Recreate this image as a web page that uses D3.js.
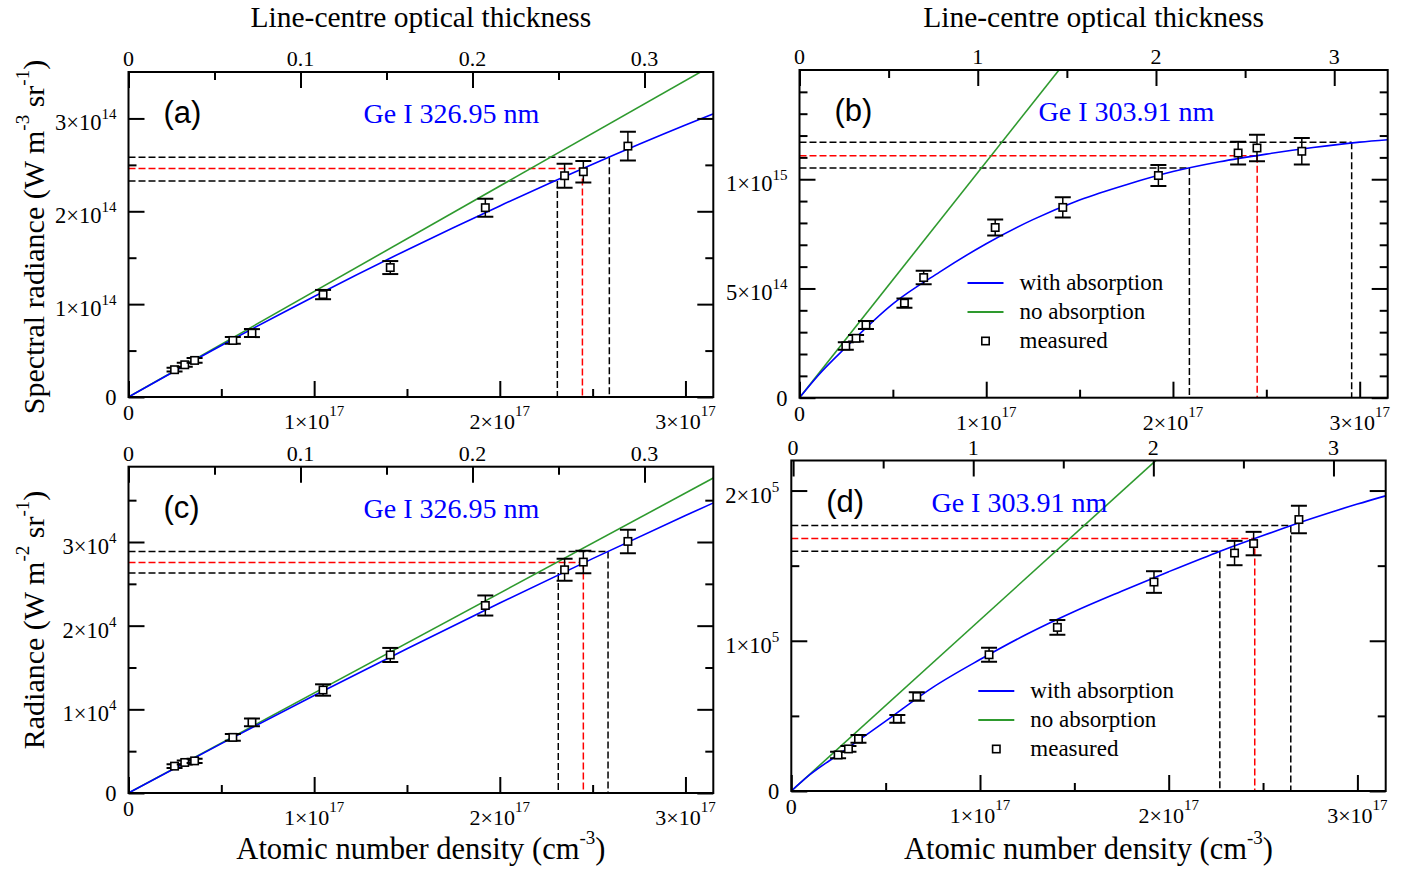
<!DOCTYPE html>
<html>
<head>
<meta charset="utf-8">
<script src="https://cdn.jsdelivr.net/npm/d3@7"></script>
<style>
  body { margin: 0; background: #fff; }
  text { font-family: "Liberation Serif", "Times New Roman", serif; fill: #000; }
</style>
</head>
<body>
<script>

// atomic number density of the measured points, x1e17 cm^-3 (same in all panels)
density = [0.248, 0.303, 0.356, 0.562, 0.665, 1.048, 1.41, 1.922, 2.349, 2.45, 2.69];
lineEnds = [0, 3.15];

// (a) spectral radiance, x1e14 W m^-3 sr^-1
measA = [0.294, 0.347, 0.394, 0.609, 0.688, 1.103, 1.394, 2.039, 2.383, 2.426, 2.702];
errA = [0.02, 0.022, 0.025, 0.036, 0.043, 0.05, 0.07, 0.097, 0.129, 0.116, 0.154];
fitNA = [0, 0.5, 1, 1.5, 2, 2.5, 3, 3.15];
fitA = [0, 0.555, 1.083, 1.584, 2.058, 2.506, 2.928, 3.049];
noAbsA = [0, 3.578];
markNA = [2.31, 2.445, 2.59];
markA = [2.326, 2.462, 2.581];

// (b) spectral radiance, x1e15 W m^-3 sr^-1
measB = [0.237, 0.272, 0.333, 0.433, 0.55, 0.779, 0.871, 1.017, 1.12, 1.143, 1.128];
errB = [0.017, 0.015, 0.018, 0.021, 0.031, 0.037, 0.046, 0.048, 0.052, 0.061, 0.061];
fitNB = [0, 0.1, 0.25, 0.5, 0.75, 1.0, 1.25, 1.5, 1.75, 2.0, 2.25, 2.5, 2.75, 3.0, 3.15];
fitB = [0, 0.102, 0.232, 0.43, 0.575, 0.705, 0.815, 0.905, 0.975, 1.035, 1.08, 1.115, 1.145, 1.17, 1.181];
noAbsB = [0, 3.40];
markNB = [2.088, 2.451, 2.957];
markB = [1.051, 1.108, 1.169];

// (c) radiance, x1e4 W m^-2 sr^-1
measC = [0.321, 0.365, 0.384, 0.665, 0.844, 1.231, 1.65, 2.241, 2.668, 2.76, 3.007];
errC = [0.022, 0.024, 0.026, 0.04, 0.046, 0.068, 0.084, 0.12, 0.132, 0.134, 0.14];
fitNC = [0, 0.5, 1, 1.5, 2, 2.5, 3, 3.15];
fitC = [0, 0.590, 1.165, 1.725, 2.271, 2.801, 3.316, 3.467];
noAbsC = [0, 3.764];
markNC = [2.315, 2.45, 2.583];
markC = [2.629, 2.756, 2.887];

// (d) radiance, x1e5 W m^-2 sr^-1
measD = [0.24, 0.28, 0.347, 0.48, 0.629, 0.907, 1.089, 1.391, 1.584, 1.647, 1.807];
errD = [0.022, 0.019, 0.026, 0.026, 0.028, 0.047, 0.049, 0.072, 0.081, 0.078, 0.091];
fitND = [0, 0.1, 0.25, 0.5, 0.75, 1.0, 1.25, 1.5, 1.75, 2.0, 2.25, 2.5, 2.75, 3.0, 3.15];
fitD = [0, 0.11, 0.243, 0.465, 0.69, 0.875, 1.045, 1.195, 1.33, 1.46, 1.585, 1.70, 1.81, 1.91, 1.965];
noAbsD = [0, 3.587];
markND = [2.271, 2.456, 2.647];
markD = [1.596, 1.68, 1.767];

markColors = ["#000000", "#ff0000", "#000000"];

// tick values and labels
xTicks = [0, 1, 2, 3];
xLabels = ["0", "1×10^{17}", "2×10^{17}", "3×10^{17}"];
xMinor = [0.5, 1.5, 2.5];
tauTicksA = [0, 0.1, 0.2, 0.3];
tauLabelsA = ["0", "0.1", "0.2", "0.3"];
tauMinorA = [0.05, 0.15, 0.25];
tauTicksB = [0, 1, 2, 3];
tauLabelsB = ["0", "1", "2", "3"];
tauMinorB = [0.5, 1.5, 2.5];
yTicksA = [0, 1, 2, 3];
yLabelsA = ["0", "1×10^{14}", "2×10^{14}", "3×10^{14}"];
yMinorA = [0.5, 1.5, 2.5];
yTicksB = [0, 0.5, 1.0];
yLabelsB = ["0", "5×10^{14}", "1×10^{15}"];
yMinorB = [0.1, 0.2, 0.3, 0.4, 0.6, 0.7, 0.8, 0.9, 1.1, 1.2, 1.3, 1.4];
yTicksC = [0, 1, 2, 3];
yLabelsC = ["0", "1×10^{4}", "2×10^{4}", "3×10^{4}"];
yMinorC = [0.5, 1.5, 2.5, 3.5];
yTicksD = [0, 1, 2];
yLabelsD = ["0", "1×10^{5}", "2×10^{5}"];
yMinorD = [0.5, 1.5];

legendNames = ["with absorption", "no absorption", "measured"];

panels = [
  {key: "a", box: [128.5, 72, 713.3, 397], yMax: 3.5, tauDom: [0, 0.34],
   meas: measA, err: errA, fitN: fitNA, fit: fitA, noAbs: noAbsA, markN: markNA, mark: markA,
   yTicks: yTicksA, yLabels: yLabelsA, yMinor: yMinorA,
   tauTicks: tauTicksA, tauLabels: tauLabelsA, tauMinor: tauMinorA,
   tag: "(a)", line: "Ge I 326.95 nm", lineX: 323,
   yTitle: "Spectral radiance (W m^{-3} sr^{-1})", yTitleY: 237, topTitle: true},
  {key: "b", box: [799.5, 70, 1387.7, 397.7], yMax: 1.5, tauDom: [0, 3.3],
   meas: measB, err: errB, fitN: fitNB, fit: fitB, noAbs: noAbsB, markN: markNB, mark: markB,
   yTicks: yTicksB, yLabels: yLabelsB, yMinor: yMinorB,
   tauTicks: tauTicksB, tauLabels: tauLabelsB, tauMinor: tauMinorB,
   tag: "(b)", line: "Ge I 303.91 nm", lineX: 327, topTitle: true, legend: [168, 213]},
  {key: "c", box: [128.5, 466.7, 713.3, 793], yMax: 3.9, tauDom: [0, 0.34],
   meas: measC, err: errC, fitN: fitNC, fit: fitC, noAbs: noAbsC, markN: markNC, mark: markC,
   yTicks: yTicksC, yLabels: yLabelsC, yMinor: yMinorC,
   tauTicks: tauTicksA, tauLabels: tauLabelsA, tauMinor: tauMinorA,
   tag: "(c)", line: "Ge I 326.95 nm", lineX: 323,
   yTitle: "Radiance (W m^{-2} sr^{-1})", yTitleY: 620, bottomTitle: true},
  {key: "d", box: [791.3, 460.5, 1385.7, 791], yMax: 2.2, tauDom: [-0.01, 3.29],
   meas: measD, err: errD, fitN: fitND, fit: fitD, noAbs: noAbsD, markN: markND, mark: markD,
   yTicks: yTicksD, yLabels: yLabelsD, yMinor: yMinorD,
   tauTicks: tauTicksB, tauLabels: tauLabelsB, tauMinor: tauMinorB,
   tag: "(d)", line: "Ge I 303.91 nm", lineX: 228, bottomTitle: true, legend: [187, 230.5]}
];

svg = d3.select("body").append("svg").attr("width", 1414).attr("height", 872);
defs = svg.append("defs");

// text with ^{...} superscripts
function rich(text, str, supSize, shift) {
  var parts = str.split(/\^\{([^}]*)\}/), raised = false;
  parts.forEach(function(p, i) {
    if (!p) return;
    var t = text.append("tspan").text(p);
    if (i % 2) { t.attr("font-size", supSize).attr("dy", -shift); raised = true; }
    else if (raised) { t.attr("dy", shift); raised = false; }
  });
  return text;
}

function ticks(g, axis, values, size, transform) {
  g.append("g").attr("transform", transform)
    .call(axis.tickValues(values).tickSize(-size).tickSizeOuter(0).tickFormat(""))
    .call(a => a.select(".domain").remove())
    .call(a => a.selectAll(".tick line").attr("stroke", "#000").attr("stroke-width", 2));
}

function drawPanel(p) {
  var L = p.box[0], T = p.box[1], w = p.box[2] - L, h = p.box[3] - T;
  var g = svg.append("g").attr("transform", "translate(" + L + "," + T + ")");

  var x = d3.scaleLinear().domain(lineEnds).range([0, w]);
  var tau = d3.scaleLinear().domain(p.tauDom).range([0, w]);
  var y = d3.scaleLinear().domain([0, p.yMax]).range([h, 0]);

  defs.append("clipPath").attr("id", "clip-" + p.key)
    .append("rect").attr("width", w).attr("height", h);
  var plot = g.append("g").attr("clip-path", "url(#clip-" + p.key + ")");

  // drop lines
  [0, 2, 1].forEach(function(i) {
    var c = markColors[i];
    plot.append("line").attr("x1", 0).attr("x2", x(p.markN[i]))
      .attr("y1", y(p.mark[i])).attr("y2", y(p.mark[i]))
      .attr("stroke", c).attr("stroke-width", 1.5).attr("stroke-dasharray", "7,3");
    plot.append("line").attr("x1", x(p.markN[i])).attr("x2", x(p.markN[i]))
      .attr("y1", y(p.mark[i])).attr("y2", h)
      .attr("stroke", c).attr("stroke-width", 1.5).attr("stroke-dasharray", "7,3");
  });

  var line = d3.line().x(d => x(d[0])).y(d => y(d[1]));
  plot.append("path").datum(d3.zip(lineEnds, p.noAbs))
    .attr("d", line).attr("fill", "none").attr("stroke", "#2e9a2e").attr("stroke-width", 1.6);
  plot.append("path").datum(d3.zip(p.fitN, p.fit))
    .attr("d", line.curve(d3.curveMonotoneX)).attr("fill", "none")
    .attr("stroke", "#0000ff").attr("stroke-width", 1.6);

  // measured points
  var pts = plot.selectAll("g.pt").data(d3.zip(density, p.meas, p.err)).enter()
    .append("g").attr("class", "pt");
  pts.append("line").attr("x1", d => x(d[0])).attr("x2", d => x(d[0]))
    .attr("y1", d => y(d[1] - d[2])).attr("y2", d => y(d[1] + d[2]))
    .attr("stroke", "#000").attr("stroke-width", 1.5);
  [-1, 1].forEach(function(s) {
    pts.append("line").attr("x1", d => x(d[0]) - 8).attr("x2", d => x(d[0]) + 8)
      .attr("y1", d => y(d[1] + s * d[2])).attr("y2", d => y(d[1] + s * d[2]))
      .attr("stroke", "#000").attr("stroke-width", 2);
  });
  pts.append("rect").attr("x", d => x(d[0]) - 3.7).attr("y", d => y(d[1]) - 3.7)
    .attr("width", 7.4).attr("height", 7.4)
    .attr("fill", "#fff").attr("stroke", "#000").attr("stroke-width", 1.6);

  // ticks on all four sides, pointing inwards
  ticks(g, d3.axisBottom(x), xTicks, 16, "translate(0," + h + ")");
  ticks(g, d3.axisBottom(x), xMinor, 8, "translate(0," + h + ")");
  ticks(g, d3.axisTop(tau), p.tauTicks, 16, "translate(0,0)");
  ticks(g, d3.axisTop(tau), p.tauMinor, 8, "translate(0,0)");
  ticks(g, d3.axisLeft(y), p.yTicks, 16, "translate(0,0)");
  ticks(g, d3.axisLeft(y), p.yMinor, 8, "translate(0,0)");
  ticks(g, d3.axisRight(y), p.yTicks, 16, "translate(" + w + ",0)");
  ticks(g, d3.axisRight(y), p.yMinor, 8, "translate(" + w + ",0)");

  g.append("rect").attr("width", w).attr("height", h)
    .attr("fill", "none").attr("stroke", "#000").attr("stroke-width", 2);

  // tick labels
  xTicks.forEach(function(v, i) {
    var t = g.append("text").attr("x", x(v)).attr("text-anchor", "middle").attr("font-size", 22)
      .attr("y", h + (xLabels[i].indexOf("^") < 0 ? 23 : 32));
    rich(t, xLabels[i], 15, 13);
  });
  p.tauTicks.forEach(function(v, i) {
    g.append("text").attr("x", tau(v)).attr("y", -6).attr("text-anchor", "middle")
      .attr("font-size", 22).text(p.tauLabels[i]);
  });
  p.yTicks.forEach(function(v, i) {
    var t = g.append("text").attr("x", -12).attr("text-anchor", "end").attr("font-size", 22.5)
      .attr("y", y(v) + (p.yLabels[i].indexOf("^") < 0 ? 8 : 12));
    rich(t, p.yLabels[i], 15, 11);
  });

  g.append("text").attr("x", 35).attr("y", 51)
    .style("font-family", "'Liberation Sans', Arial, sans-serif").attr("font-size", 31).text(p.tag);
  g.append("text").attr("x", p.lineX).attr("y", 51).attr("text-anchor", "middle")
    .attr("font-size", 28).style("fill", "#0000ff").text(p.line);

  if (p.legend) {
    var lx = p.legend[0], ly = p.legend[1];
    ["#0000ff", "#2e9a2e"].forEach(function(c, i) {
      g.append("line").attr("x1", lx).attr("x2", lx + 36)
        .attr("y1", ly + i * 29).attr("y2", ly + i * 29)
        .attr("stroke", c).attr("stroke-width", 2);
    });
    g.append("rect").attr("x", lx + 14.3).attr("y", ly + 58 - 3.7).attr("width", 7.4).attr("height", 7.4)
      .attr("fill", "#fff").attr("stroke", "#000").attr("stroke-width", 1.6);
    legendNames.forEach(function(n, i) {
      g.append("text").attr("x", lx + 52).attr("y", ly + i * 29 + 7)
        .attr("font-size", 23).text(n);
    });
  }

  // axis titles
  if (p.topTitle) {
    svg.append("text").attr("x", L + w / 2).attr("y", 27).attr("text-anchor", "middle")
      .attr("font-size", 29.5).text("Line-centre optical thickness");
  }
  if (p.bottomTitle) {
    var bt = svg.append("text").attr("x", L + w / 2).attr("y", 859).attr("text-anchor", "middle")
      .attr("font-size", 30.5);
    rich(bt, "Atomic number density (cm^{-3})", 19, 15);
  }
  if (p.yTitle) {
    var yt = svg.append("text").attr("transform", "translate(44," + p.yTitleY + ") rotate(-90)")
      .attr("text-anchor", "middle").attr("font-size", 30);
    rich(yt, p.yTitle, 19, 15);
  }
}

panels.forEach(drawPanel);

</script>
</body>
</html>
